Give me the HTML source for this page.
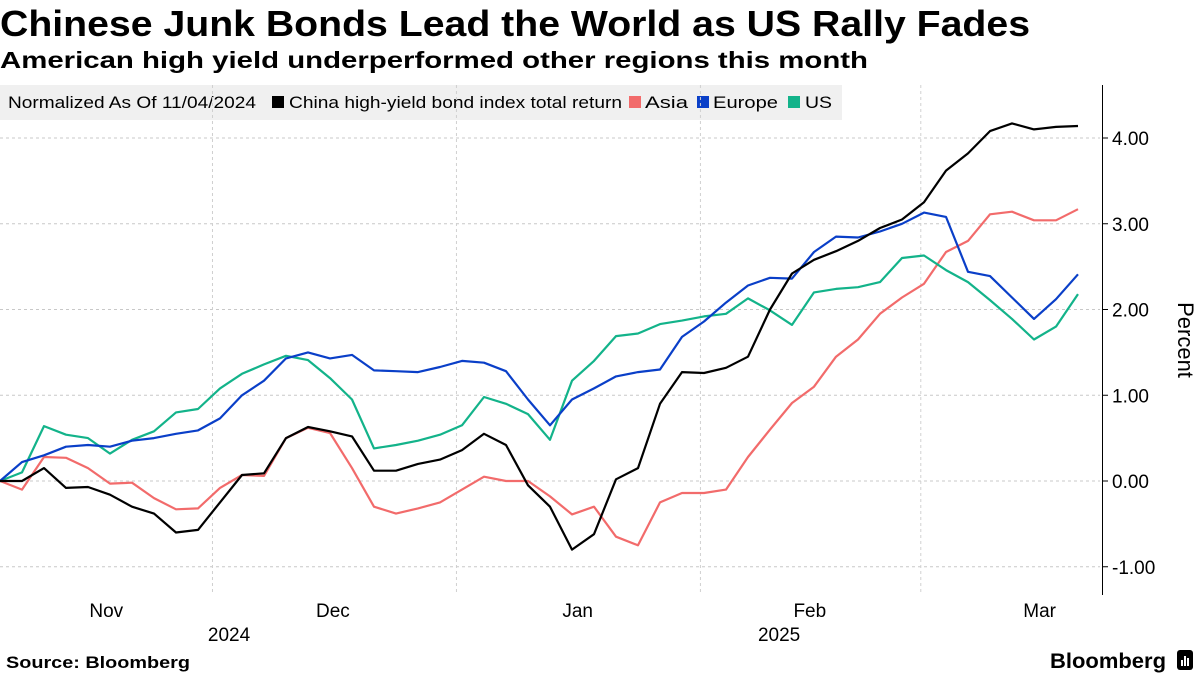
<!DOCTYPE html>
<html><head><meta charset="utf-8">
<style>
html,body{margin:0;padding:0;background:#fff;}
svg{display:block;font-family:"Liberation Sans","DejaVu Sans",sans-serif;}
</style></head>
<body>
<svg id="chart" width="1200" height="675" viewBox="0 0 1200 675">
<text x="0" y="36" font-size="36" font-weight="bold" textLength="1030" lengthAdjust="spacingAndGlyphs">Chinese Junk Bonds Lead the World as US Rally Fades</text>
<text x="0" y="68" font-size="23" font-weight="bold" textLength="868" lengthAdjust="spacingAndGlyphs">American high yield underperformed other regions this month</text>
<g>
<rect x="0" y="85" width="842" height="35" fill="#f0f0f0"/>
<text x="8" y="108" font-size="17" textLength="248" lengthAdjust="spacingAndGlyphs">Normalized As Of 11/04/2024</text>
<rect x="272" y="96" width="12" height="12" fill="#000"/>
<text x="289" y="108" font-size="17" textLength="333" lengthAdjust="spacingAndGlyphs">China high-yield bond index total return</text>
<rect x="629" y="96" width="12" height="12" fill="#f26b6b"/>
<text x="645" y="108" font-size="17" textLength="43" lengthAdjust="spacingAndGlyphs">Asia</text>
<rect x="697" y="96" width="12" height="12" fill="#0a3fc8"/>
<text x="713" y="108" font-size="17" textLength="65" lengthAdjust="spacingAndGlyphs">Europe</text>
<rect x="788" y="96" width="12" height="12" fill="#13b38a"/>
<text x="805" y="108" font-size="17" textLength="27" lengthAdjust="spacingAndGlyphs">US</text>
</g>
<g id="grid"></g>
<g id="series"></g>
<g id="axes"></g>
<text transform="translate(1178,340) rotate(90)" text-anchor="middle" font-size="22">Percent</text>
<text x="6" y="668" font-size="17" font-weight="bold" textLength="184" lengthAdjust="spacingAndGlyphs">Source: Bloomberg</text>
<text x="1050" y="668" font-size="21" font-weight="bold" textLength="116" lengthAdjust="spacingAndGlyphs">Bloomberg</text>
<g>
<rect x="1177" y="650" width="16" height="20" rx="3" fill="#000"/>
<rect x="1181" y="660" width="2" height="6" fill="#fff"/><rect x="1184" y="656" width="2" height="10" fill="#fff"/><rect x="1187" y="658" width="2" height="8" fill="#fff"/>
</g>
</svg>
<script>
const categories = Array.from({length:50},(_,i)=>i); // business-day steps from 11/04/2024
const china = [0,0,0.15,-0.08,-0.07,-0.16,-0.3,-0.38,-0.6,-0.57,-0.25,0.07,0.09,0.5,0.63,0.58,0.52,0.12,0.12,0.2,0.25,0.36,0.55,0.42,-0.05,-0.3,-0.8,-0.62,0.02,0.15,0.9,1.27,1.26,1.32,1.45,2.0,2.42,2.58,2.68,2.8,2.95,3.05,3.25,3.62,3.82,4.08,4.17,4.1,4.13,4.14];
const asia = [0,-0.1,0.28,0.27,0.15,-0.03,-0.02,-0.2,-0.33,-0.32,-0.08,0.07,0.06,0.5,0.62,0.56,0.15,-0.3,-0.38,-0.32,-0.25,-0.1,0.05,0.0,0.0,-0.18,-0.39,-0.3,-0.65,-0.75,-0.25,-0.14,-0.14,-0.1,0.28,0.6,0.91,1.1,1.45,1.65,1.95,2.14,2.3,2.67,2.8,3.11,3.14,3.04,3.04,3.17];
const europe = [0,0.22,0.3,0.4,0.42,0.4,0.47,0.5,0.55,0.59,0.73,1.0,1.17,1.43,1.5,1.43,1.47,1.29,1.28,1.27,1.33,1.4,1.38,1.28,0.95,0.65,0.95,1.08,1.22,1.27,1.3,1.68,1.86,2.08,2.28,2.37,2.36,2.67,2.85,2.84,2.91,3.0,3.13,3.08,2.44,2.39,2.14,1.89,2.12,2.41];
const us = [0,0.1,0.64,0.54,0.5,0.32,0.48,0.58,0.8,0.84,1.08,1.25,1.36,1.46,1.41,1.2,0.95,0.38,0.42,0.47,0.54,0.65,0.98,0.9,0.78,0.48,1.17,1.4,1.69,1.72,1.83,1.87,1.92,1.95,2.13,1.99,1.82,2.2,2.24,2.26,2.32,2.6,2.63,2.46,2.32,2.11,1.89,1.65,1.8,2.18];
const yTicks = [4,3,2,1,0,-1];
const yTickLabels = ["4.00","3.00","2.00","1.00","0.00","-1.00"];
const monthLabels = ["Nov","Dec","Jan","Feb","Mar"];
const monthLabelPos = [13.5,42.3,73.4,102.9,132.1]; // day offsets from Nov 4
const monthBoundaries = [27,58,89,117]; // day offsets of Dec1, Jan1, Feb1, Mar1
const yearLabels = ["2024","2025"];
const yearLabelPos = [29.1,99];

const NS="http://www.w3.org/2000/svg";
const y = v => 481 - v*85.75;
const x = i => i*1078/(categories.length-1);
const xd = d => d*7.87;
function mk(tag,parent,attrs){const e=document.createElementNS(NS,tag);for(const k in attrs)e.setAttribute(k,attrs[k]);parent.appendChild(e);return e;}
const grid=document.getElementById('grid'), axes=document.getElementById('axes'), ser=document.getElementById('series');
yTicks.forEach((t,k)=>{
  const g=mk('line',grid,{x1:0,x2:1100,y1:y(t),y2:y(t),stroke:'#c8c8c8','stroke-dasharray':'3,3','stroke-width':1});
  
  
  const tk=mk('line',axes,{x1:1102,x2:1108,y1:y(t),y2:y(t),stroke:'#000','stroke-width':1});
  
  
  const tl=mk('text',axes,{x:1112,y:y(t)+7,'font-size':19});
  tl.textContent=yTickLabels[k];
  
  
});
monthBoundaries.forEach(d=>{
  const g=mk('line',grid,{x1:xd(d),x2:xd(d),y1:85,y2:595,stroke:'#d0d0d0','stroke-dasharray':'3,3','stroke-width':1});
  
  
});
const ax=mk('line',axes,{x1:1102.5,x2:1102.5,y1:85,y2:595,stroke:'#000','stroke-width':1});


monthLabels.forEach((m,k)=>{
  const t=mk('text',axes,{x:xd(monthLabelPos[k]),y:617,'font-size':19,'text-anchor':'middle'});
  t.textContent=m;
  
  
});
yearLabels.forEach((m,k)=>{
  const t=mk('text',axes,{x:xd(yearLabelPos[k]),y:641,'font-size':19,'text-anchor':'middle'});
  t.textContent=m;
  
  
});
const defs=[[asia,'#f26b6b','asia-line'],[us,'#13b38a','us-line'],[europe,'#0a3fc8','europe-line'],[china,'#000','china-line']];
defs.forEach(([arr,col,name])=>{
  const p=mk('polyline',ser,{points:arr.map((v,i)=>x(i).toFixed(1)+','+y(v).toFixed(1)).join(' '),fill:'none',stroke:col,'stroke-width':2.2,'stroke-linejoin':'round'});
  
  
});
</script>
</body></html>
